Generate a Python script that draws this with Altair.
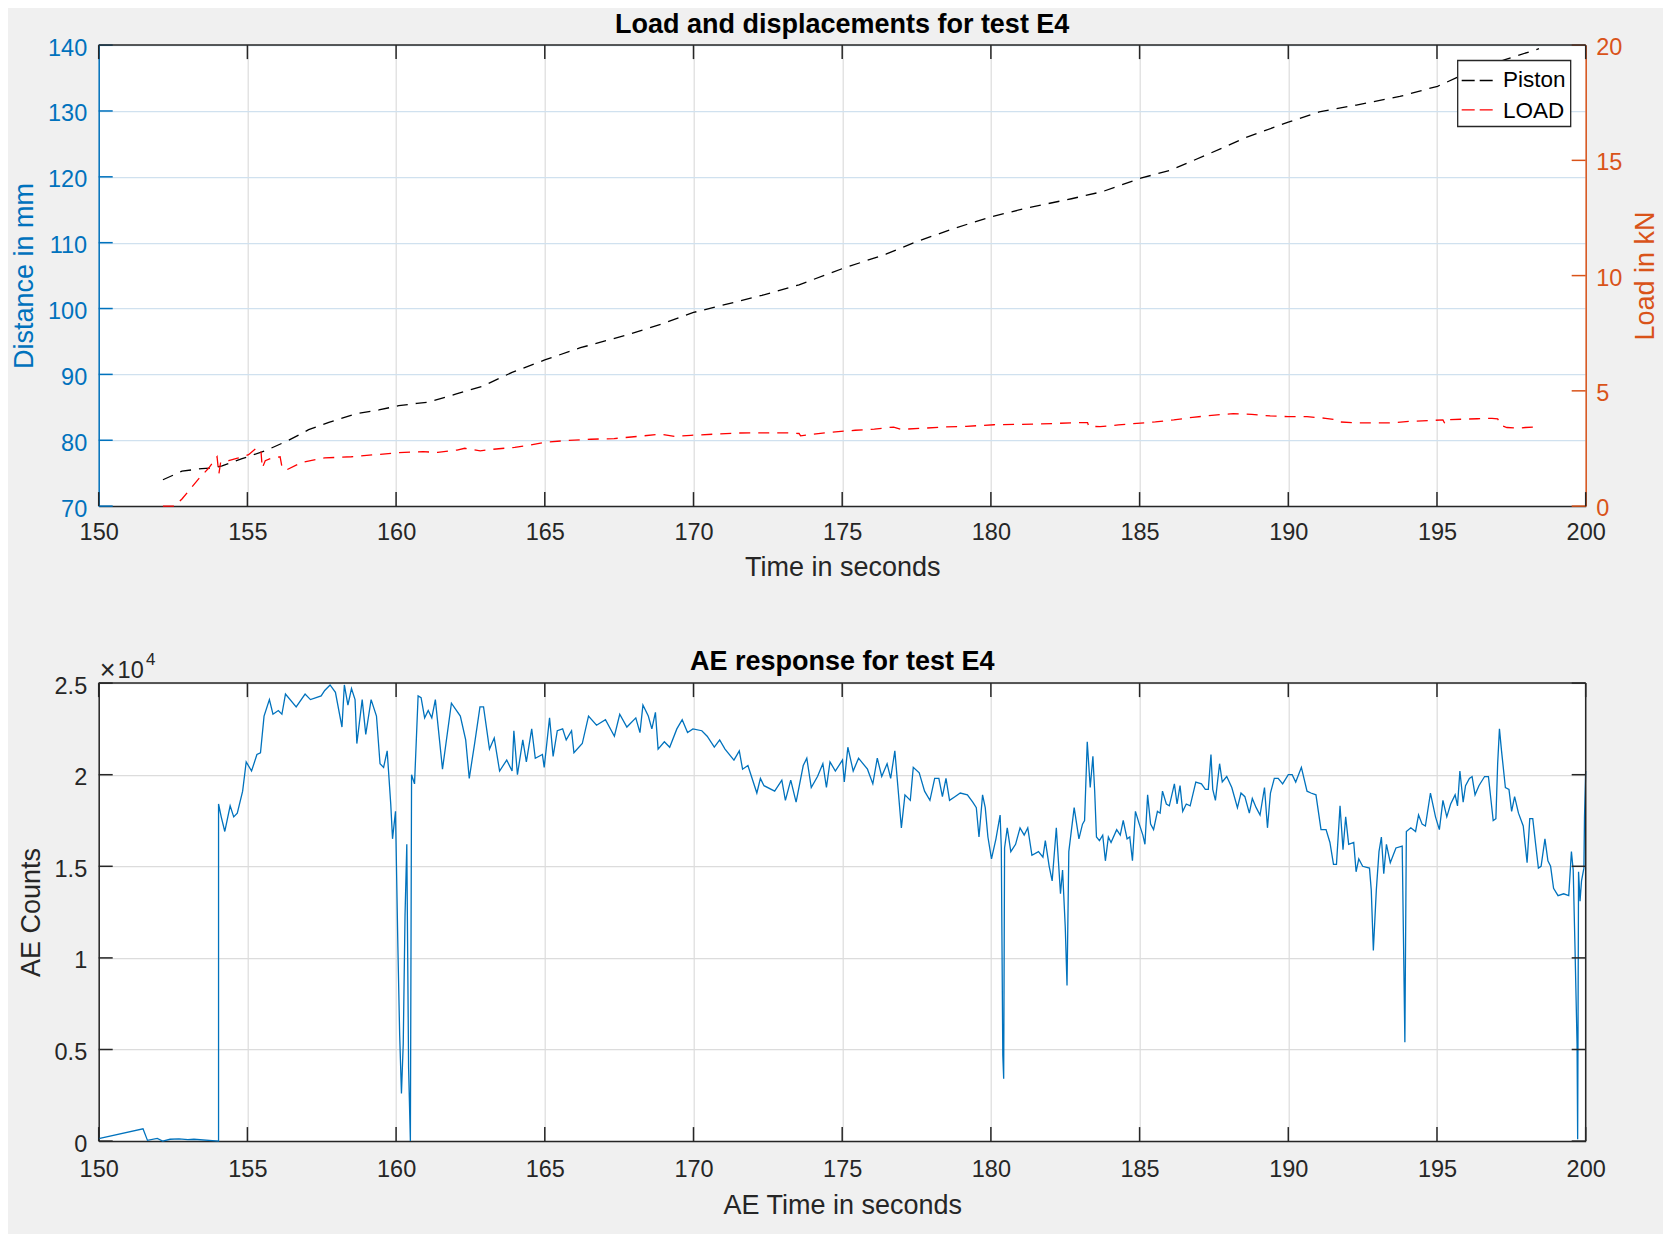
import altair as alt
import pandas as pd

FONT = "Liberation Sans"
BLUE = "#0072BD"
ORANGE = "#D95319"
DARK = "#262626"
GRID = "#DCDCDC"
GRID_BLUE = "#D0E1EF"
BG = "#F0F0F0"

W = 1487
H_TOP = 461
H_BOT = 458
TICK_LEN = 14

# ---------------- data ----------------
time_ticks = [150, 155, 160, 165, 170, 175, 180, 185, 190, 195, 200]
distance_ticks = [70, 80, 90, 100, 110, 120, 130, 140]
load_ticks = [0, 5, 10, 15, 20]
ae_ticks = [0, 0.5, 1, 1.5, 2, 2.5]
series_names = ["Piston", "LOAD"]
exponent_parts = ["\u00d7", "10", "4"]

piston_time = [152.16, 152.8, 153.47, 153.87, 154.15, 154.82, 155.6, 156.39, 157.06, 157.74,
               158.63, 159.42, 160.09, 160.7, 161.1, 162.0, 162.9, 163.9, 165.0, 166.2,
               167.7, 168.9, 170.0, 172.3, 173.55, 175.03, 176.47, 177.5, 178.75, 180.02,
               181.25, 182.71, 183.75, 185.04, 186.04, 187.29, 188.54, 190.0, 191.04, 192.29,
               193.75, 195.02, 195.83, 197.29, 198.43]
piston_mm = [74.0, 75.3, 75.7, 75.8, 76.1, 77.2, 78.4, 80.0, 81.6, 82.7,
             84.0, 84.6, 85.25, 85.6, 85.8, 87.0, 88.2, 90.3, 92.2, 94.05,
             95.9, 97.6, 99.4, 102.0, 103.6, 106.1, 108.25, 110.15, 112.15, 113.95,
             115.3, 116.67, 117.75, 119.8, 121.0, 123.4, 125.9, 128.3, 129.85, 130.9,
             132.2, 133.75, 135.4, 137.8, 139.45]

load_time = [152.16, 152.56, 152.8, 153.36, 153.7, 153.98, 154.04, 154.1, 154.37, 154.7,
             155.04, 155.33, 155.46, 155.5, 155.6, 155.83, 156.1, 156.17, 156.33, 156.84,
             157.6, 158.5, 159.3, 160.1, 160.9, 161.4, 162.05, 162.31, 162.83, 163.21,
             163.99, 164.5, 165.0, 165.78, 166.55, 167.33, 168.1, 168.88, 169.39, 169.91,
             170.68, 171.45, 172.35, 173.13, 173.55, 173.6, 174.03, 174.67, 175.44, 176.08,
             176.73, 176.98, 177.62, 178.4, 179.17, 180.1, 181.55, 182.92, 183.25, 183.29,
             183.67, 184.29, 184.91, 185.53, 186.15, 186.78, 187.52, 188.15, 188.77, 189.39,
             190.0, 190.63, 191.25, 191.63, 191.75, 192.25, 193.49, 194.11, 194.73, 195.2,
             195.26, 195.3, 195.86, 196.36, 196.85, 197.04, 197.17, 197.35, 197.73, 197.97,
             198.41]
load_kn = [0.0, 0.0, 0.31, 1.18, 1.65, 2.14, 1.39, 1.9, 1.97, 2.09,
           2.23, 2.55, 2.33, 1.65, 1.97, 2.09, 2.14, 1.65, 1.58, 1.9,
           2.09, 2.14, 2.23, 2.32, 2.36, 2.33, 2.43, 2.51, 2.40, 2.46,
           2.55, 2.65, 2.77, 2.85, 2.90, 2.93, 3.02, 3.12, 3.02, 3.07,
           3.12, 3.17, 3.18, 3.18, 3.15, 3.05, 3.12, 3.21, 3.29, 3.34,
           3.43, 3.33, 3.37, 3.43, 3.46, 3.53, 3.56, 3.62, 3.62, 3.46,
           3.45, 3.52, 3.59, 3.65, 3.74, 3.85, 3.95, 4.01, 3.98, 3.91,
           3.88, 3.88, 3.81, 3.74, 3.65, 3.61, 3.61, 3.68, 3.71, 3.74,
           3.59, 3.74, 3.77, 3.79, 3.81, 3.78, 3.49, 3.41, 3.38, 3.41,
           3.44]

ae_time = [150.0, 151.49, 151.64, 151.97, 152.15, 152.4, 152.7, 153.0, 153.2, 154.03,
           154.03, 154.12, 154.24, 154.42, 154.54, 154.66, 154.84, 154.96, 155.14, 155.32,
           155.44, 155.56, 155.74, 155.86, 156.04, 156.16, 156.28, 156.64, 156.94, 157.12,
           157.48, 157.6, 157.78, 157.96, 158.18, 158.26, 158.38, 158.5, 158.62, 158.68,
           158.86, 158.98, 159.16, 159.34, 159.46, 159.58, 159.7, 159.82, 159.88, 159.98,
           160.06, 160.12, 160.18, 160.24, 160.3, 160.36, 160.42, 160.48, 160.52, 160.62,
           160.74, 160.84, 160.96, 161.08, 161.2, 161.32, 161.56, 161.86, 162.16, 162.34,
           162.46, 162.64, 162.82, 162.94, 163.14, 163.3, 163.48, 163.72, 163.9, 163.96,
           164.08, 164.26, 164.38, 164.56, 164.68, 164.92, 164.98, 165.16, 165.28, 165.42,
           165.6, 165.72, 165.9, 165.98, 166.26, 166.47, 166.74, 167.04, 167.34, 167.52,
           167.76, 168.06, 168.2, 168.3, 168.48, 168.6, 168.72, 168.81, 169.02, 169.2,
           169.44, 169.62, 169.8, 169.98, 170.28, 170.46, 170.7, 170.88, 171.06, 171.36,
           171.54, 171.65, 171.83, 172.13, 172.25, 172.37, 172.73, 172.97, 173.09, 173.27,
           173.45, 173.69, 173.81, 173.96, 174.17, 174.35, 174.47, 174.59, 174.77, 175.01,
           175.07, 175.19, 175.37, 175.55, 175.85, 176.03, 176.18, 176.33, 176.51, 176.63,
           176.77, 176.87, 176.99, 177.11, 177.29, 177.39, 177.59, 177.77, 177.95, 178.11,
           178.25, 178.37, 178.49, 178.61, 178.79, 178.97, 179.21, 179.39, 179.51, 179.6,
           179.72, 179.81, 179.9, 180.02, 180.17, 180.31, 180.35, 180.4, 180.43, 180.46,
           180.55, 180.67, 180.83, 180.98, 181.12, 181.24, 181.38, 181.6, 181.75, 181.83,
           181.96, 182.06, 182.2, 182.34, 182.41, 182.5, 182.56, 182.62, 182.8, 182.96,
           183.08, 183.15, 183.24, 183.34, 183.43, 183.49, 183.55, 183.65, 183.76, 183.85,
           183.95, 184.04, 184.23, 184.35, 184.45, 184.58, 184.67, 184.76, 184.86, 184.99,
           185.11, 185.18, 185.27, 185.37, 185.47, 185.6, 185.69, 185.77, 185.9, 186.0,
           186.17, 186.26, 186.36, 186.45, 186.57, 186.7, 186.89, 187.08, 187.21, 187.31,
           187.4, 187.46, 187.55, 187.69, 187.78, 187.93, 188.1, 188.29, 188.41, 188.54,
           188.69, 188.79, 188.92, 189.05, 189.2, 189.3, 189.4, 189.53, 189.66, 189.81,
           190.0, 190.13, 190.25, 190.44, 190.63, 190.76, 190.93, 191.1, 191.27, 191.4,
           191.52, 191.62, 191.74, 191.84, 191.93, 192.03, 192.2, 192.28, 192.37, 192.5,
           192.73, 192.79, 192.86, 192.96, 193.05, 193.13, 193.21, 193.3, 193.43, 193.62,
           193.83, 193.87, 193.92, 193.97, 194.12, 194.28, 194.38, 194.5, 194.61, 194.78,
           194.95, 195.08, 195.2, 195.33, 195.46, 195.61, 195.69, 195.77, 195.88, 195.96,
           196.09, 196.18, 196.28, 196.41, 196.6, 196.73, 196.89, 196.98, 197.04, 197.1,
           197.17, 197.3, 197.42, 197.51, 197.61, 197.74, 197.9, 198.03, 198.12, 198.22,
           198.31, 198.41, 198.5, 198.63, 198.73, 198.82, 198.92, 199.07, 199.26, 199.43,
           199.52, 199.58, 199.64, 199.71, 199.73, 199.76, 199.81, 199.86, 199.94, 199.96,
           200.0]
# AE counts in units of 10^4
ae_counts = [0.013, 0.067, 0.004, 0.015, 0.0, 0.01, 0.012, 0.008, 0.01, 0.0,
             1.84, 1.77, 1.69, 1.83, 1.77, 1.79, 1.91, 2.07, 2.02, 2.11,
             2.12, 2.32, 2.41, 2.33, 2.35, 2.33, 2.44, 2.37, 2.44, 2.41,
             2.43, 2.46, 2.49, 2.45, 2.26, 2.49, 2.38, 2.47, 2.41, 2.17,
             2.41, 2.22, 2.41, 2.32, 2.06, 2.04, 2.13, 1.84, 1.65, 1.80,
             1.06, 0.58, 0.26, 0.53, 1.23, 1.62, 0.40, 0.0, 2.0, 1.95,
             2.43, 2.42, 2.31, 2.35, 2.31, 2.41, 2.03, 2.39, 2.32, 2.19,
             1.98, 2.17, 2.37, 2.37, 2.14, 2.20, 2.02, 2.08, 2.02, 2.24,
             2.00, 2.19, 2.07, 2.25, 2.09, 2.11, 2.04, 2.31, 2.10, 2.24,
             2.25, 2.19, 2.24, 2.12, 2.17, 2.32, 2.27, 2.30, 2.21, 2.33,
             2.26, 2.31, 2.23, 2.38, 2.32, 2.25, 2.34, 2.14, 2.18, 2.15,
             2.25, 2.30, 2.23, 2.25, 2.24, 2.21, 2.15, 2.19, 2.14, 2.08,
             2.13, 2.03, 2.05, 1.90, 1.98, 1.94, 1.91, 1.97, 1.86, 1.97,
             1.85, 2.05, 2.09, 1.93, 1.99, 2.06, 1.93, 2.07, 2.02, 2.08,
             1.96, 2.15, 2.02, 2.09, 2.03, 1.95, 2.09, 1.99, 2.06, 1.98,
             2.13, 1.94, 1.71, 1.89, 1.86, 2.04, 2.01, 1.91, 1.86, 1.98,
             1.98, 1.88, 1.98, 1.86, 1.88, 1.90, 1.89, 1.85, 1.82, 1.66,
             1.89, 1.82, 1.66, 1.54, 1.65, 1.78, 1.60, 0.47, 0.34, 1.60,
             1.71, 1.58, 1.62, 1.71, 1.67, 1.71, 1.56, 1.58, 1.55, 1.64,
             1.50, 1.42, 1.71, 1.35, 1.48, 1.17, 0.85, 1.58, 1.82, 1.65,
             1.73, 1.75, 2.18, 1.93, 2.10, 1.91, 1.66, 1.64, 1.67, 1.53,
             1.66, 1.63, 1.70, 1.67, 1.75, 1.65, 1.66, 1.53, 1.80, 1.73,
             1.67, 1.62, 1.89, 1.73, 1.70, 1.80, 1.79, 1.91, 1.84, 1.83,
             1.95, 1.84, 1.94, 1.80, 1.84, 1.83, 1.96, 1.95, 1.92, 1.92,
             2.11, 1.92, 1.86, 2.06, 1.96, 1.99, 1.93, 1.82, 1.90, 1.88,
             1.79, 1.87, 1.82, 1.78, 1.93, 1.71, 1.90, 1.98, 1.98, 1.95,
             2.00, 2.00, 1.96, 2.04, 1.91, 1.90, 1.89, 1.70, 1.70, 1.63,
             1.51, 1.51, 1.83, 1.59, 1.77, 1.62, 1.63, 1.47, 1.54, 1.50,
             1.49, 1.37, 1.04, 1.37, 1.58, 1.66, 1.46, 1.62, 1.52, 1.60,
             1.61, 1.14, 0.54, 1.69, 1.71, 1.69, 1.78, 1.73, 1.72, 1.90,
             1.77, 1.70, 1.86, 1.77, 1.84, 1.89, 1.83, 2.02, 1.85, 1.94,
             1.98, 1.99, 1.89, 1.94, 1.99, 1.99, 1.75, 1.76, 2.06, 2.25,
             2.13, 1.93, 1.92, 1.80, 1.88, 1.79, 1.72, 1.52, 1.76, 1.76,
             1.63, 1.49, 1.50, 1.65, 1.53, 1.50, 1.38, 1.34, 1.35, 1.34,
             1.58, 1.48, 1.06, 0.53, 0.01, 1.47, 1.31, 1.42, 1.49, 1.77,
             2.02]

assert len(ae_time) == len(ae_counts)
assert len(load_time) == len(load_kn)
assert len(piston_time) == len(piston_mm)

piston_df = pd.DataFrame({"t": piston_time, "v": piston_mm})
load_df = pd.DataFrame({"t": load_time, "v": load_kn})
ae_df = pd.DataFrame({"t": ae_time, "v": ae_counts, "i": list(range(len(ae_time)))})
time_tick_df = pd.DataFrame({"t": time_ticks})
dist_tick_df = pd.DataFrame({"v": distance_ticks})
load_tick_df = pd.DataFrame({"v": load_ticks})
ae_tick_df = pd.DataFrame({"v": ae_ticks})
one_df = pd.DataFrame({"k": [0]})

# ---------------- encodings ----------------
common = dict(labelFont=FONT, titleFont=FONT, labelFontSize=23.5, titleFontSize=27,
              titleFontWeight="normal", ticks=False, tickSize=0, domainWidth=1.5,
              gridWidth=1.2, labelFlush=False, labelOverlap=False)

x_scale = alt.Scale(domain=[150, 200], nice=False, zero=False)
dist_scale = alt.Scale(domain=[70, 140], nice=False, zero=False)
load_scale = alt.Scale(domain=[0, 20], nice=False, zero=False)
ae_scale = alt.Scale(domain=[0, 2.5], nice=False, zero=False)


def x_axis(title, label_pad, title_pad):
    return alt.Axis(orient="bottom", values=time_ticks, title=title, labelColor=DARK,
                    titleColor=DARK, domainColor=DARK, grid=True, gridColor=GRID,
                    labelPadding=label_pad, titlePadding=title_pad, **common)


X_TOP = alt.X("t:Q", scale=x_scale, axis=x_axis("Time in seconds", 14, 11))
X_BOT = alt.X("t:Q", scale=x_scale, axis=x_axis("AE Time in seconds", 16, 12))
Y_AE = alt.Y("v:Q", scale=ae_scale,
             axis=alt.Axis(orient="left", values=ae_ticks, format="~g", title="AE Counts",
                           labelColor=DARK, titleColor=DARK, domainColor=DARK, grid=True,
                           gridColor=GRID, labelPadding=12, titlePadding=8.8, labelOffset=3,
                           **common))


def x_tick_layers(x_enc, h):
    top = alt.Chart(time_tick_df).mark_rule(color=DARK, strokeWidth=1.5).encode(
        x=x_enc, y=alt.value(0), y2=alt.value(TICK_LEN))
    bottom = alt.Chart(time_tick_df).mark_rule(color=DARK, strokeWidth=1.5).encode(
        x=x_enc, y=alt.value(h - TICK_LEN), y2=alt.value(h))
    return [top, bottom]


def y_tick_layer(df, y_enc, color, side):
    x0, x1 = (0, TICK_LEN) if side == "left" else (W - TICK_LEN, W)
    return alt.Chart(df).mark_rule(color=color, strokeWidth=1.5).encode(
        y=y_enc, x=alt.value(x0), x2=alt.value(x1))


def top_edge():
    return alt.Chart(one_df).mark_rule(color=DARK, strokeWidth=1.5).encode(
        x=alt.value(0), x2=alt.value(W), y=alt.value(0))


# ---------------- top panel ----------------
piston_line = alt.Chart(piston_df).mark_line(color="black", strokeWidth=1.3, strokeDash=[11, 8]).encode(
    x=X_TOP,
    y=alt.Y("v:Q", scale=dist_scale,
            axis=alt.Axis(orient="left", values=distance_ticks, title="Distance in mm",
                          labelColor=BLUE, titleColor=BLUE, domainColor=BLUE, grid=True,
                          gridColor=GRID_BLUE, labelPadding=12, titlePadding=8.8,
                          labelOffset=3, **common)),
)
load_line = alt.Chart(load_df).mark_line(color="#FF0000", strokeWidth=1.3, strokeDash=[11, 8]).encode(
    x=X_TOP,
    y=alt.Y("v:Q", scale=load_scale,
            axis=alt.Axis(orient="right", values=load_ticks, title="Load in kN",
                          labelColor=ORANGE, titleColor=ORANGE, domainColor=ORANGE, grid=False,
                          labelPadding=10, titlePadding=11, titleAngle=270, titleBaseline="top",
                          labelOffset=2.5, **common)),
)

legend_box = alt.Chart(one_df).mark_rect(fill="white", stroke=DARK, strokeWidth=1.3).encode(
    x=alt.value(1359), x2=alt.value(1472), y=alt.value(15.4), y2=alt.value(81.4))
legend_line_p = alt.Chart(one_df).mark_rule(color="black", strokeWidth=1.3, strokeDash=[13, 5]).encode(
    x=alt.value(1363), x2=alt.value(1396), y=alt.value(35.4))
legend_line_l = alt.Chart(one_df).mark_rule(color="#FF0000", strokeWidth=1.3, strokeDash=[13, 5]).encode(
    x=alt.value(1363), x2=alt.value(1396), y=alt.value(64.7))
legend_text_p = alt.Chart(pd.DataFrame({"name": [series_names[0]]})).mark_text(
    align="left", baseline="middle", font=FONT, fontSize=22.5, color="black").encode(
    text="name:N", x=alt.value(1404.3), y=alt.value(35.1))
legend_text_l = alt.Chart(pd.DataFrame({"name": [series_names[1]]})).mark_text(
    align="left", baseline="middle", font=FONT, fontSize=22.5, color="black").encode(
    text="name:N", x=alt.value(1404.3), y=alt.value(65.5))

top = alt.layer(
    piston_line, load_line,
    y_tick_layer(dist_tick_df, alt.Y("v:Q", scale=dist_scale, axis=None), BLUE, "left"),
    y_tick_layer(load_tick_df, alt.Y("v:Q", scale=load_scale, axis=None), ORANGE, "right"),
    *x_tick_layers(X_TOP, H_TOP), top_edge(),
    legend_box, legend_line_p, legend_line_l, legend_text_p, legend_text_l,
).resolve_scale(y="independent").properties(
    width=W, height=H_TOP,
    title=alt.TitleParams(text="Load and displacements for test E4", font=FONT, fontSize=27,
                          fontWeight="bold", color="black", offset=-3.4, anchor="middle"),
)

# ---------------- bottom panel ----------------
ae_line = alt.Chart(ae_df).mark_line(color=BLUE, strokeWidth=1.3).encode(
    x=X_BOT, y=Y_AE, order="i:Q",
)
right_edge = alt.Chart(one_df).mark_rule(color=DARK, strokeWidth=1.5).encode(
    x=alt.value(W), y=alt.value(0), y2=alt.value(H_BOT))
exp_times = alt.Chart(pd.DataFrame({"s": [exponent_parts[0]]})).mark_text(
    align="left", baseline="alphabetic", font=FONT, fontSize=27, color=DARK).encode(
    text="s:N", x=alt.value(1), y=alt.value(-4.4))
exp_ten = alt.Chart(pd.DataFrame({"s": [exponent_parts[1]]})).mark_text(
    align="left", baseline="alphabetic", font=FONT, fontSize=23.5, color=DARK).encode(
    text="s:N", x=alt.value(18.9), y=alt.value(-5.4))
exp_pow = alt.Chart(pd.DataFrame({"s": [exponent_parts[2]]})).mark_text(
    align="left", baseline="alphabetic", font=FONT, fontSize=17, color=DARK).encode(
    text="s:N", x=alt.value(47.4), y=alt.value(-18))

bottom = alt.layer(
    ae_line,
    y_tick_layer(ae_tick_df, Y_AE, DARK, "left"),
    y_tick_layer(ae_tick_df, Y_AE, DARK, "right"),
    *x_tick_layers(X_BOT, H_BOT), top_edge(), right_edge, exp_times, exp_ten, exp_pow,
).properties(
    width=W, height=H_BOT,
    title=alt.TitleParams(text="AE response for test E4", font=FONT, fontSize=27,
                          fontWeight="bold", color="black", offset=-25, anchor="middle"),
)

chart = alt.vconcat(top, bottom, spacing=66).properties(
    background=BG,
    padding={"left": 1.7, "top": 2.1, "right": 3, "bottom": 15},
).configure_view(stroke="transparent", fill="white")

chart.save("out.html", embed_options={"renderer": "svg", "actions": False})
